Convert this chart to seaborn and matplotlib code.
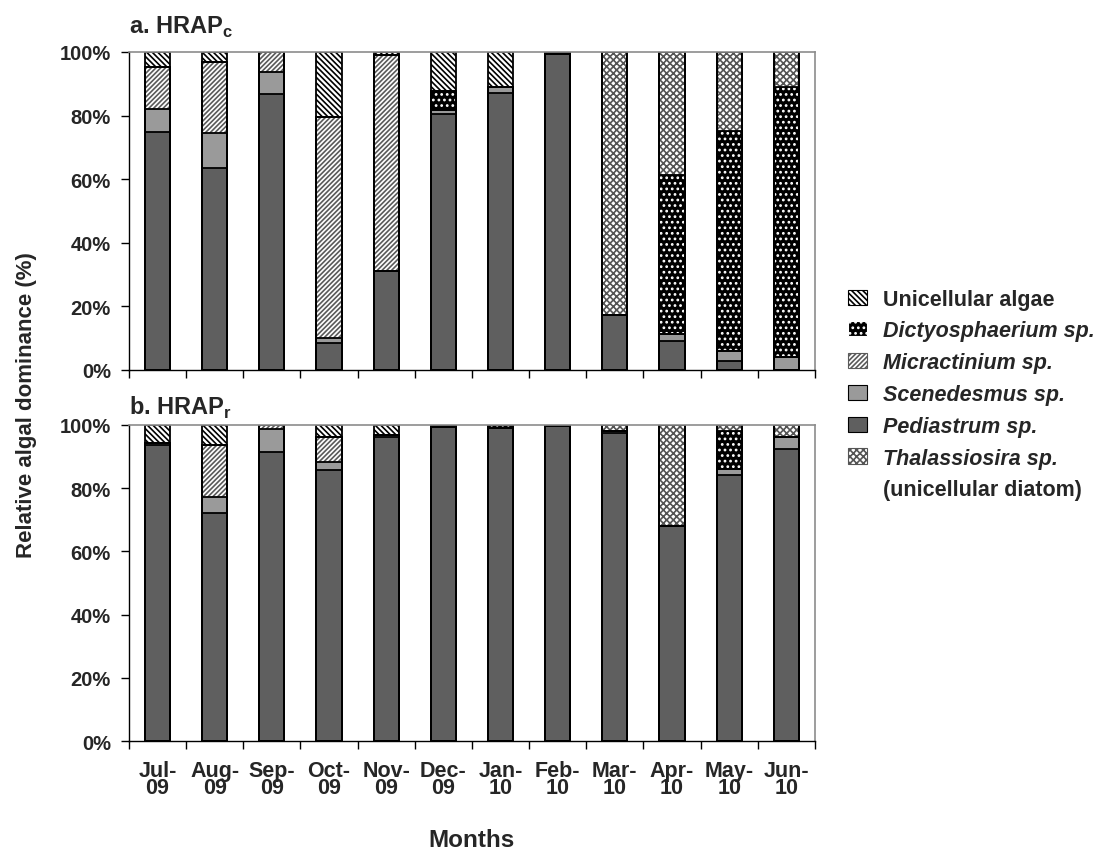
import numpy as np
import matplotlib
matplotlib.use("Agg")
import matplotlib.pyplot as plt
import matplotlib.patches as mpatches
import seaborn as sns

sns.set_style("ticks")
plt.rcParams['font.family'] = ['Liberation Sans', 'DejaVu Sans']
plt.rcParams['font.weight'] = 'bold'
plt.rcParams['mathtext.fontset'] = 'custom'
plt.rcParams['mathtext.bf'] = 'Liberation Sans:bold'
plt.rcParams['mathtext.rm'] = 'Liberation Sans:bold'
plt.rcParams['hatch.linewidth'] = 1.2

# data (% of algal community)
months = ["Jul-\n09", "Aug-\n09", "Sep-\n09", "Oct-\n09", "Nov-\n09", "Dec-\n09",
          "Jan-\n10", "Feb-\n10", "Mar-\n10", "Apr-\n10", "May-\n10", "Jun-\n10"]

# a. HRAPc
ped_c = [74.7, 63.6, 86.9, 8.4, 31.1, 80.5, 87.2, 99.4, 17.4, 9.1, 2.7, 0.0]
scen_c = [7.4, 10.8, 6.8, 1.6, 0.0, 1.4, 1.9, 0.0, 0.0, 2.2, 3.2, 4.1]
micr_c = [13.1, 22.6, 6.3, 69.7, 68.0, 0, 0, 0, 0, 0, 0, 0]
dict_c = [0, 0, 0, 0, 0, 5.7, 0, 0.6, 0, 50.0, 69.4, 84.9]
thal_c = [0, 0, 0, 0, 0, 0, 0, 0, 82.6, 38.7, 24.7, 11.0]
unic_c = [4.8, 3.0, 0, 20.3, 0.9, 12.4, 10.9, 0, 0, 0, 0, 0]

# b. HRAPr
ped_r = [93.7, 72.3, 91.6, 85.8, 96.3, 99.5, 99.2, 99.8, 97.6, 67.9, 84.2, 92.3]
scen_r = [0.7, 5.0, 7.0, 2.6, 0.6, 0, 0, 0, 0.5, 0, 1.8, 4.0]
micr_r = [0, 16.4, 1.4, 7.9, 0, 0, 0, 0, 0, 0, 0, 0]
dict_r = [0, 0, 0, 0, 0, 0.5, 0.8, 0.2, 0, 0, 12.1, 0]
thal_r = [0, 0, 0, 0, 0, 0, 0, 0, 1.9, 32.1, 1.9, 3.7]
unic_r = [5.6, 6.3, 0, 3.7, 3.1, 0, 0, 0, 0, 0, 0, 0]

# style per species: facecolor, hatch colour, hatch
styles = {
    "ped": ("#5f5f5f", "#5f5f5f", None),
    "scen": ("#9a9a9a", "#9a9a9a", None),
    "micr": ("white", "#5a5a5a", "///////"),
    "dict": ("black", "white", "..."),
    "thal": ("white", "#555555", "xxxxx"),
    "unic": ("white", "black", "\\\\\\\\\\\\"),
}
stack_order = ["ped", "scen", "micr", "dict", "thal", "unic"]


def stacked(ax, layers):
    cum = np.cumsum(np.array([layers[k] for k in stack_order]), axis=0)
    # fills, topmost cumulative first
    for i in range(len(stack_order) - 1, -1, -1):
        fc, hc, h = styles[stack_order[i]]
        sns.barplot(x=months, y=cum[i], order=months, color=fc, edgecolor=hc,
                    hatch=h, linewidth=0, width=0.44, errorbar=None, ax=ax)
    # outlines
    for i in range(len(stack_order) - 1, -1, -1):
        sns.barplot(x=months, y=cum[i], order=months, fill=False, color="black",
                    linewidth=1.3, width=0.44, errorbar=None, ax=ax)


def style_axes(ax, show_labels):
    ax.set_ylim(0, 100)
    ax.set_xlim(-0.5, 11.5)
    ax.set_yticks(range(0, 101, 20))
    ax.set_yticklabels([f"{v}%" for v in range(0, 101, 20)], fontsize=14.5, fontweight='bold')
    ax.set_xticks(np.arange(-0.5, 12, 1), minor=True)
    ax.tick_params(axis='x', which='major', length=0, pad=14)
    ax.tick_params(axis='x', which='minor', length=6, width=1, color='black')
    ax.tick_params(axis='y', length=6, width=1, color='black', pad=7)
    if show_labels:
        ax.set_xticklabels(months, fontsize=15.5, fontweight='bold', linespacing=0.75)
    else:
        ax.set_xticklabels([])
    for s in ['top', 'right']:
        ax.spines[s].set_visible(True)
        ax.spines[s].set_color('#8c8c8c')
        ax.spines[s].set_linewidth(1.2)
    for s in ['left', 'bottom']:
        ax.spines[s].set_color('black')
        ax.spines[s].set_linewidth(1.0)
    ax.set_xlabel("")
    ax.set_ylabel("")


fig = plt.figure(figsize=(11.05, 8.53), dpi=100)
ax1 = fig.add_axes([0.1167, 0.5651, 0.6208, 0.3728])
ax2 = fig.add_axes([0.1167, 0.1301, 0.6208, 0.3705])

stacked(ax1, {"ped": ped_c, "scen": scen_c, "micr": micr_c,
              "dict": dict_c, "thal": thal_c, "unic": unic_c})
stacked(ax2, {"ped": ped_r, "scen": scen_r, "micr": micr_r,
              "dict": dict_r, "thal": thal_r, "unic": unic_r})
style_axes(ax1, False)
style_axes(ax2, True)

ax1.set_title(r"a. HRAP$_\mathbf{c}$", loc='left', fontsize=17, fontweight='bold', pad=14)
ax2.set_title(r"b. HRAP$_\mathbf{r}$", loc='left', fontsize=17, fontweight='bold', pad=8)

fig.text(0.024, 0.525, "Relative algal dominance (%)", rotation=90, ha='center', va='center',
         fontsize=16, fontweight='bold')
fig.text(0.427, 0.015, "Months", ha='center', va='center', fontsize=17.5, fontweight='bold')

# legend
leg_names = ["unic", "dict", "micr", "scen", "ped", "thal"]
leg_labels = ["Unicellular algae", "Dictyosphaerium sp.", "Micractinium sp.",
              "Scenedesmus sp.", "Pediastrum sp.", "Thalassiosira sp."]
handles = []
for k in leg_names:
    fc, hc, h = styles[k]
    handles.append(mpatches.Patch(facecolor=fc, edgecolor=hc if h else 'black', hatch=h, linewidth=0.8))
handles.append(mpatches.Patch(facecolor='none', edgecolor='none'))
labels = leg_labels + ["(unicellular diatom)"]
leg = fig.legend(handles, labels, loc='upper left', bbox_to_anchor=(0.758, 0.673),
                 frameon=False, borderpad=0, handlelength=0.85, handleheight=0.7,
                 handletextpad=0.75, labelspacing=0.5, prop={'weight': 'bold', 'size': 15.5})
for t, lab in zip(leg.get_texts(), labels):
    if lab not in ("Unicellular algae", "(unicellular diatom)"):
        t.set_fontstyle('italic')

fig.savefig("out.png", dpi=100)
